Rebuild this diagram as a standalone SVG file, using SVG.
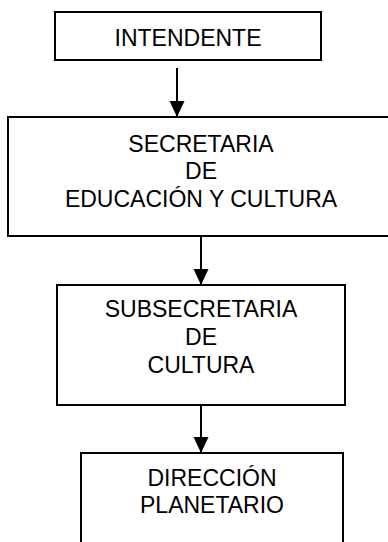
<svg xmlns="http://www.w3.org/2000/svg" width="388" height="542" viewBox="0 0 388 542">
<style>
.box{fill:#fff;stroke:#000;stroke-width:2}
.t{font-family:"Liberation Sans",Arial,sans-serif;font-size:23px;fill:#000;text-anchor:middle}
.c{stroke:#000;stroke-width:2;fill:none}
</style>
<defs>
<marker id="ah" markerWidth="16" markerHeight="16" viewBox="0 0 16 16" refX="16" refY="8" orient="auto" markerUnits="userSpaceOnUse">
<path d="M0,0.5 L16,8 L0,15.5 Z" fill="#000"/>
</marker>
</defs>
<rect width="388" height="542" fill="#fff"/>
<g id="connectors">
<line class="c" x1="177" y1="68" x2="177" y2="117" marker-end="url(#ah)"/>
<line class="c" x1="201" y1="236" x2="201" y2="285" marker-end="url(#ah)"/>
<line class="c" x1="201" y1="405" x2="201" y2="453" marker-end="url(#ah)"/>
</g>
<g id="intendente">
<rect class="box" x="55" y="12" width="266" height="48"/>
<text class="t" x="188" y="46">INTENDENTE</text>
</g>
<g id="secretaria">
<rect class="box" x="8" y="117" width="386" height="119"/>
<text class="t" x="201" y="152">SECRETARIA</text>
<text class="t" x="201" y="179">DE</text>
<text class="t" x="201" y="207">EDUCACIÓN Y CULTURA</text>
</g>
<g id="subsecretaria">
<rect class="box" x="57" y="285" width="288" height="120"/>
<text class="t" x="201" y="317">SUBSECRETARIA</text>
<text class="t" x="201" y="345">DE</text>
<text class="t" x="201" y="373">CULTURA</text>
</g>
<g id="direccion">
<rect class="box" x="81" y="453" width="262" height="110"/>
<text class="t" x="212" y="486">DIRECCIÓN</text>
<text class="t" x="212" y="513">PLANETARIO</text>
</g>
</svg>
